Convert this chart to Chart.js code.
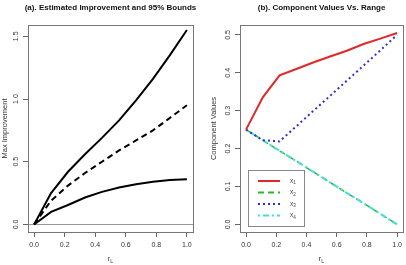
<!DOCTYPE html>
<html>
<head>
<meta charset="utf-8">
<script src="https://cdn.jsdelivr.net/npm/chart.js@4.4.0/dist/chart.umd.min.js"></script>
<style>
  html, body { margin: 0; padding: 0; background: #fff; }
  #wrap { position: relative; width: 406px; height: 265px; }
  .panel { position: absolute; top: 0; width: 203px; height: 265px; }
</style>
</head>
<body>
<div id="wrap">
  <div class="panel" style="left:0"><canvas id="chartA"></canvas></div>
  <div class="panel" style="left:203px"><canvas id="chartB"></canvas></div>
</div>
<script>
// range values r_L, shared by both panels
var rL = [0, 0.111, 0.222, 0.333, 0.444, 0.556, 0.667, 0.778, 0.889, 1.0];

// (a) estimated improvement and 95% bounds
var upperBound = [0, 0.25, 0.42, 0.56, 0.69, 0.83, 0.99, 1.16, 1.35, 1.55];
var estimate   = [0, 0.19, 0.31, 0.41, 0.50, 0.59, 0.67, 0.75, 0.85, 0.95];
var lowerBound = [0, 0.10, 0.155, 0.215, 0.26, 0.295, 0.32, 0.34, 0.355, 0.36];

// (b) component values
var x1 = [0.25, 0.335, 0.393, 0.41, 0.427, 0.443, 0.458, 0.476, 0.49, 0.505];
var x2 = [0.25, 0.222, 0.194, 0.167, 0.139, 0.111, 0.083, 0.056, 0.028, 0];
var x3 = [0.25, 0.222, 0.219, 0.259, 0.299, 0.339, 0.379, 0.419, 0.459, 0.5];
var x4 = [0.25, 0.222, 0.194, 0.167, 0.139, 0.111, 0.083, 0.056, 0.028, 0];

var xTicks = [0, 0.2, 0.4, 0.6, 0.8, 1.0];
var yTicksA = [0, 0.5, 1.0, 1.5];
var yTicksB = [0, 0.1, 0.2, 0.3, 0.4, 0.5];

var FONT = '"Liberation Sans", Arial, sans-serif';

function pts(ys) {
  return ys.map(function (y, i) { return { x: rL[i], y: y }; });
}

// draws "base" with a smaller subscript after it, centred on x
function subText(ctx, base, sub, x, y, size) {
  ctx.font = size + 'px ' + FONT;
  var w1 = ctx.measureText(base).width;
  ctx.font = (size * 0.7) + 'px ' + FONT;
  var w2 = ctx.measureText(sub).width;
  var left = x - (w1 + w2) / 2;
  ctx.textAlign = 'left';
  ctx.textBaseline = 'middle';
  ctx.font = size + 'px ' + FONT;
  ctx.fillText(base, left, y);
  ctx.font = (size * 0.7) + 'px ' + FONT;
  ctx.fillText(sub, left + w1, y + size * 0.3);
}

// box, titles, rotated y tick labels, axis titles, and legend (panel b)
var decor = {
  id: 'decor',
  afterDraw: function (chart, args, opts) {
    var ctx = chart.ctx, a = chart.chartArea;
    var cx = (a.left + a.right) / 2, cy = (a.top + a.bottom) / 2;
    ctx.save();
    ctx.strokeStyle = '#777';
    ctx.lineWidth = 1;
    ctx.strokeRect(Math.round(a.left) + 0.5, Math.round(a.top) + 0.5,
      Math.round(a.right - a.left), Math.round(a.bottom - a.top));

    ctx.fillStyle = '#111';
    ctx.font = 'bold 8px ' + FONT;
    ctx.textAlign = 'center';
    ctx.textBaseline = 'middle';
    ctx.fillText(opts.title, cx, 8);

    // y tick labels, parallel to the axis
    var ys = chart.scales.y;
    ctx.fillStyle = '#333';
    ctx.font = '7px ' + FONT;
    opts.yTicks.forEach(function (v) {
      ctx.save();
      ctx.translate(a.left - 11.5, ys.getPixelForValue(v));
      ctx.rotate(-Math.PI / 2);
      ctx.fillText(v.toFixed(1), 0, 0);
      ctx.restore();
    });

    // y axis title
    ctx.save();
    ctx.translate(opts.yTitleX, cy);
    ctx.rotate(-Math.PI / 2);
    ctx.font = '7.5px ' + FONT;
    ctx.fillText(opts.yTitle, 0, 0);
    ctx.restore();

    // x axis title r_L
    ctx.fillStyle = '#333';
    subText(ctx, 'r', 'L', cx, 259, 7.5);

    if (opts.legend) {
      var lx = a.left + 8, ly = 170;
      ctx.strokeStyle = '#888';
      ctx.strokeRect(lx + 0.5, ly + 0.5, 56, 56);
      chart.data.datasets.forEach(function (ds, i) {
        var y = ly + 11 + i * 11.5;
        ctx.save();
        ctx.strokeStyle = ds.borderColor;
        ctx.lineWidth = 2;
        ctx.setLineDash(ds.borderDash || []);
        ctx.beginPath();
        ctx.moveTo(lx + 10, y);
        ctx.lineTo(lx + 32, y);
        ctx.stroke();
        ctx.restore();
        ctx.fillStyle = '#444';
        subText(ctx, 'x', String(i + 1), lx + 45, y, 6.5);
      });
    }
    ctx.restore();
  }
};

function makeScales(yMin, yMax, yStep, yWidth, zeroLine) {
  return {
    x: {
      type: 'linear', min: -0.04, max: 1.04,
      border: { display: false },
      grid: { drawOnChartArea: false, tickLength: 5, tickColor: '#666' },
      ticks: {
        stepSize: 0.2, includeBounds: false, padding: 4, color: '#333',
        font: { family: FONT, size: 7 },
        maxRotation: 0,
        callback: function (v) { return v.toFixed(1); }
      },
      afterFit: function (s) { s.height = 33; }
    },
    y: {
      type: 'linear', min: yMin, max: yMax,
      border: { display: false },
      grid: {
        drawOnChartArea: zeroLine, tickLength: 5, tickColor: '#666',
        color: function (c) { return c.tick && c.tick.value === 0 ? '#999' : 'rgba(0,0,0,0)'; }
      },
      ticks: { stepSize: yStep, includeBounds: false, display: false },
      afterFit: function (s) { s.width = yWidth; }
    }
  };
}

var common = {
  responsive: false,
  animation: false,
  events: [],
  elements: { point: { radius: 0 }, line: { tension: 0, borderCapStyle: 'butt' } },
  plugins: { legend: { display: false }, tooltip: { enabled: false } }
};

var elA = document.getElementById('chartA');
elA.width = 203; elA.height = 265;
new Chart(elA, {
  type: 'line',
  data: {
    datasets: [
      { label: 'upper', data: pts(upperBound), borderColor: '#000', borderWidth: 2 },
      { label: 'estimate', data: pts(estimate), borderColor: '#000', borderWidth: 2, borderDash: [6, 4] },
      { label: 'lower', data: pts(lowerBound), borderColor: '#000', borderWidth: 2 }
    ]
  },
  options: Object.assign({}, common, {
    layout: { padding: { top: 25, right: 10, left: 0, bottom: 0 } },
    scales: makeScales(-0.06, 1.59, 0.5, 28, true),
    plugins: Object.assign({}, common.plugins, {
      decor: {
        title: '(a). Estimated Improvement and 95% Bounds',
        yTitle: 'Max Improvement', yTitleX: 5, yTicks: yTicksA, legend: false
      }
    })
  }),
  plugins: [decor]
});

var elB = document.getElementById('chartB');
elB.width = 203; elB.height = 265;
new Chart(elB, {
  type: 'line',
  data: {
    datasets: [
      { label: 'x1', data: pts(x1), borderColor: '#e02828', borderWidth: 2, order: 0 },
      { label: 'x2', data: pts(x2), borderColor: '#2fb52f', borderWidth: 1.5, borderDash: [6, 4], order: 3 },
      { label: 'x3', data: pts(x3), borderColor: '#3030c8', borderWidth: 2, borderDash: [2, 3], order: 1 },
      { label: 'x4', data: pts(x4), borderColor: '#45dede', borderWidth: 2, borderDash: [2, 3, 6, 3], order: 2 }
    ]
  },
  options: Object.assign({}, common, {
    layout: { padding: { top: 25, right: 1, left: 0, bottom: 0 } },
    scales: makeScales(-0.02, 0.526, 0.1, 37, false),
    plugins: Object.assign({}, common.plugins, {
      decor: {
        title: '(b). Component Values Vs. Range',
        yTitle: 'Component Values', yTitleX: 11, yTicks: yTicksB, legend: true
      }
    })
  }),
  plugins: [decor]
});
</script>
</body>
</html>
